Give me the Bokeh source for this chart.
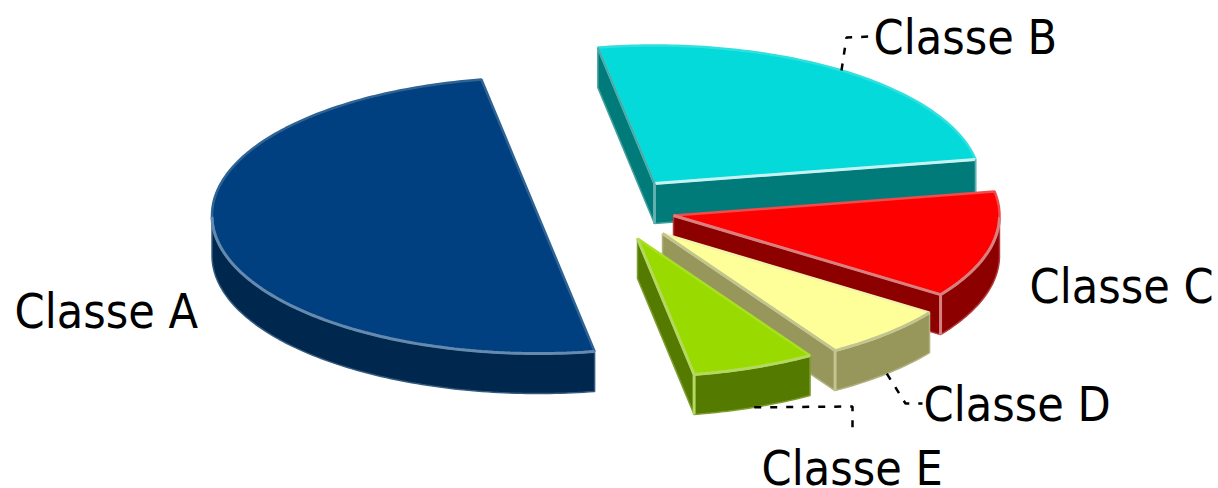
import numpy as np
from bokeh.plotting import figure
from bokeh.models import Range1d
from bokeh.embed import file_html
from bokeh.resources import INLINE
from bokeh.core.properties import value

# data
categories = ["Classe A", "Classe B", "Classe C", "Classe D", "Classe E"]
shares = [50.0, 25.0, 12.5, 6.4, 6.1]

# styles
top_colors = ["#004080", "#04DADA", "#FF0000", "#FFFF99", "#99DB00"]
wall_colors = ["#00284F", "#017B79", "#8C0000", "#97975C", "#557A00"]
edge_colors = ["#2F6394", "#30E0DE", "#F04A4A", "#F4F4A8", "#A8E020"]
rim_colors = ["#668AAD", "#C8F2F2", "#D88080", "#C4C490", "#B4D860"]
wall_edge_colors = ["#35597C", "#3FA09E", "#B03A3A", "#B0B080", "#7E9C30"]

# explode layout, in page pixels
centers_x = [537.5, 654.0, 673.0, 662.0, 637.0]
centers_y = [215.0, 183.0, 215.0, 233.0, 238.0]
RX, RY, DEPTH = 326.0, 138.0, 40.0
START = -80.0

# label layout
label_x = [14, 873, 1029, 923, 761]
label_y = [310, 36, 285, 403, 467]
leader_slices = [1, 3, 4]
leader_elbow = [(846, 37), (905, 403), (852, 406)]
leader_end = [(870, 36), (922, 403), (852, 430)]

p = figure(width=1218, height=488, x_range=Range1d(0, 1218), y_range=Range1d(488, 0),
           output_backend="svg", toolbar_location=None, min_border=0,
           outline_line_color=None, background_fill_color="white")
p.axis.visible = False
p.grid.visible = False


def pt(i, t, dz=0.0):
    r = np.radians(t)
    return centers_x[i] + RX * np.cos(r), centers_y[i] - RY * np.sin(r) + dz


def arc(i, a, b, dz=0.0):
    ts = np.linspace(a, b, max(int(abs(a - b)) + 2, 2))
    return pt(i, ts, dz)


angles = []
cur = START
for s in shares:
    angles.append((cur, cur - s * 3.6))
    cur -= s * 3.6

for i, (t0, t1) in enumerate(angles):
    cx, cy = centers_x[i], centers_y[i]
    wc, we, rim = wall_colors[i], wall_edge_colors[i], rim_colors[i]
    # radial faces
    for t, vis in ((t0, np.cos(np.radians(t0)) < 0), (t1, np.cos(np.radians(t1)) > 0)):
        if vis:
            x, y = pt(i, t)
            p.patch([cx, x, x, cx], [cy, y, y + DEPTH, cy + DEPTH], fill_color=wc,
                    line_color=we, line_width=1.5)
    # outer wall: the part of the arc facing the viewer
    ts = np.linspace(t0, t1, max(int(abs(t1 - t0)) + 2, 2))
    ts = ts[np.sin(np.radians(ts)) < 0]
    if len(ts) > 1:
        xt, yt = pt(i, ts)
        xb, yb = pt(i, ts, DEPTH)
        p.patch(np.r_[xt, xb[::-1]], np.r_[yt, yb[::-1]], fill_color=wc,
                line_color=we, line_width=1.5)
    # top
    xa, ya = arc(i, t0, t1)
    p.patch(np.r_[cx, xa], np.r_[cy, ya], fill_color=top_colors[i],
            line_color=edge_colors[i], line_width=2.5)
    # bevel highlights along the front edges
    if len(ts) > 1:
        xt, yt = pt(i, ts)
        p.line(xt, yt, line_color=rim, line_width=3)
    if np.cos(np.radians(t1)) > 0:
        x, y = pt(i, t1)
        p.line([cx, x], [cy, y], line_color=rim, line_width=3)
        if i != 1:
            p.line([x, x], [y, y + DEPTH], line_color=rim, line_width=3)
        else:
            p.line([cx, cx], [cy, cy + DEPTH], line_color="#5FB0AE", line_width=3)
            p.line([x, x], [y, y + DEPTH], line_color="#5FB0AE", line_width=1.5)
    if np.cos(np.radians(t0)) < 0:
        x, y = pt(i, t0)
        p.line([cx, x], [cy, y], line_color="#4FA8A6", line_width=2)

# leader lines start at the middle of their slice
for s, el, en in zip(leader_slices, leader_elbow, leader_end):
    mid = (angles[s][0] + angles[s][1]) / 2
    face = np.sin(np.radians(mid)) < 0
    x0, y0 = pt(s, mid, DEPTH if face else 0.0)
    p.line([x0, el[0], en[0]], [y0, el[1], en[1]], line_color="black", line_width=2.5,
           line_dash="7 9")

p.text(label_x, label_y, text=categories, text_font=value("DejaVu Sans Condensed"),
       text_font_size="48px", text_color="black", text_baseline="alphabetic",
       text_align="left")

open("out.html", "w").write(file_html(p, INLINE))
